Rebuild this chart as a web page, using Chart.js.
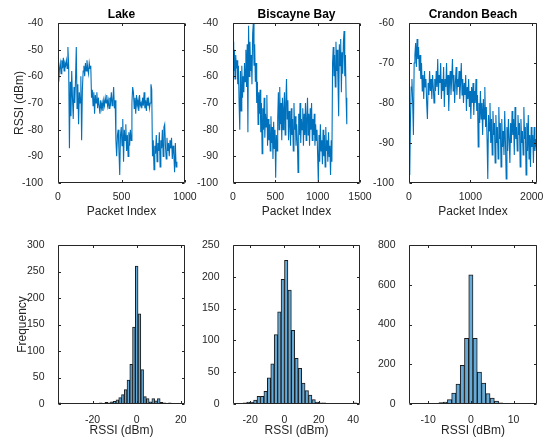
<!DOCTYPE html>
<html><head><meta charset="utf-8">
<script src="https://cdn.jsdelivr.net/npm/chart.js@4.4.0/dist/chart.umd.min.js"></script>
<style>
html,body{margin:0;padding:0;background:#fff;}
#wrap{position:relative;width:545px;height:441px;background:#fff;}
#wrap canvas{position:absolute;left:0;top:0;}
</style></head><body><div id="wrap">
<canvas id="c1" width="545" height="441"></canvas>
<canvas id="c2" width="545" height="441"></canvas>
<canvas id="c3" width="545" height="441"></canvas>
<canvas id="c4" width="545" height="441"></canvas>
<canvas id="c5" width="545" height="441"></canvas>
<canvas id="c6" width="545" height="441"></canvas>
</div>
<script>
// ---------------- DATA ----------------
const titles = ['Lake', 'Biscayne Bay', 'Crandon Beach'];

// packet index step between the read samples
const lakeStep = 6;
const lakeRssi = [-60,-62,-57,-55,-59,-54,-57,-53,-58,-55,-56,-54,-57,-49,-56,-87,-62,
 -75,-58,-68,-76,-64,-70,-61,-49,-72,-63,-78,-66,-70,-60,-84,-65,-58,
 -56,-60,-55,-58,-54,-57,-59,-55,-57,-56,
 -68,-65,-71,-66,-74,-67,-70,-66,-72,-68,-71,-74,-69,-72,-70,-73,-69,-71,-68,-70,-67,-71,-69,-72,-68,-70,-66,-71,-69,-64,-72,-69,
 -84,-90,-82,-80,-88,-97,-82,-79,-86,-76,-92,-80,-84,-78,-88,-82,-90,-81,-86,-80,-84,
 -70,-64,-66,-72,-68,-74,-67,-71,-69,-73,-67,-71,-70,-72,-68,-71,-66,-72,-69,-73,-68,-71,-69,-72,-70,-63,-65,
 -90,-84,-95,-86,-89,-82,-92,-85,-88,-81,-94,-84,-87,-80,-90,-79,-78,-86,-91,-83,-88,-85,-90,-84,-87,-83,-91,-86,-89,-96,-85,-94,-92];

const biscStep = 8;
const biscRssi = [-47,-58,-50,-61,-52,-57,-54,-63,-56,-70,-80,-58,-73,-56,-68,-60,-66,-55,-62,-50,
 -64,-48,-81,-41,-60,-47,-58,-52,-63,-44,-40,-56,-48,-62,-55,-70,-62,-78,-66,-74,
 -65,-81,-70,-89,-72,-80,-68,-83,-74,-79,-67,-86,-76,-84,-78,-88,-75,-85,-79,-91,
 -77,-87,-80,-98,-82,-88,-76,-66,-80,-64,-78,-70,-84,-68,-80,-72,-66,-82,-70,-61,
 -76,-69,-84,-73,-78,-86,-72,-82,-76,-88,-70,-80,-75,-86,-78,-84,-96,-74,-82,-70,
 -85,-76,-80,-72,-86,-74,-82,-70,-84,-76,-68,-82,-74,-86,-72,-80,-70,-84,-76,-82,
 -74,-86,-78,-84,-80,-90,-100,-82,-92,-78,-88,-84,-93,-80,-90,-82,-94,-79,-88,-84,
 -92,-81,-90,-86,-97,-84,-92,-55,-49,-60,-52,-64,-47,-58,-50,-62,-75,-48,-56,-46,
 -66,-51,-59,-47,-43,-60,-52,-68,-78];

const cranStep = 12;
const cranRssi = [-90,-98,-84,-76,-74,-80,-88,-70,-68,
 -65,-71,-64,-69,-66,-72,-68,-74,-70,
 -77,-73,-79,-72,-76,-74,-80,-84,-75,-78,-72,-77,-74,-79,-73,-76,-80,-74,-77,-72,
 -76,-69,-78,-73,-75,-70,-79,-74,-77,-71,-81,-74,-76,-70,-78,-73,-82,-75,-72,-78,-74,-69,-77,-73,-80,-75,-71,-78,-74,-76,-72,-79,-75,-70,-78,-74,
 -80,-75,-78,-73,-82,-76,-79,-74,-81,-77,-84,-76,-80,-75,-83,-77,-80,-74,
 -82,-78,-91,-80,-85,-77,-84,-80,-88,-79,-84,-76,-86,-81,-89,-99,-83,-87,-80,
 -90,-84,-93,-82,-88,-85,-95,-83,-90,-86,-94,-81,-89,-85,-96,-84,-91,-87,-93,-82,-90,-99,-86,-92,-84,-89,
 -95,-85,-90,-82,-88,-84,-93,-81,-89,-86,-92,-83,-88,-85,-96,-84,-90,-87,-93,-81,-89,-86,-98,-85,-92,-83,-94,-88,-96,-86,
 -91,-88,-95,-86,-92,-89,-91];

const lineXMax = [1000, 1500, 2086];
const lineXTicks = [[0, 500, 1000], [0, 500, 1000, 1500], [0, 1000, 2000]];
const lineYMin = [-100, -100, -100];
const lineYMax = [-40, -40, -60];
const lineYTicks = [[-100,-90,-80,-70,-60,-50,-40], [-100,-90,-80,-70,-60,-50,-40], [-100,-90,-80,-70,-60]];

// histograms: bin centers and counts
const lakeBins = [-35,-33.75,-32.5,-31.25,-30,-28.75,-27.5,-26.25,-25,-23.75,-22.5,-21.25,-20,-18.75,-17.5,-16.25,-15,-13.75,-12.5,-11.25,-10,-8.75,-7.5,-6.25,-5,-3.75,-2.5,-1.25,0,1.25,2.5,3.75,5,6.25,7.5,8.75,10,11.25,12.5,13.75,15,16.25,17.5,18.75,20,21.25];
const lakeCounts = [2,1,0,1,0,0,1,0,0,1,0,1,1,0,1,2,1,3,2,4,5,8,12,18,27,45,75,145,260,170,65,14,10,4,10,6,10,3,2,1,2,1,1,0,1,0];
const biscBins = [-29,-27,-25,-23,-21,-19,-17,-15,-13,-11,-9,-7,-5,-3,-1,1,3,5,7,9,11,13,15,17,19,21,23,25,27,29,31,33,35,37,39,41,43];
const biscCounts = [0,1,1,2,3,3,6,12,12,20,41,63,109,145,196,226,179,116,72,56,33,21,14,7,3,2,2,1,1,1,0,1,1,1,1,2,0];
const cranBins = [-14,-13,-12,-11,-10,-9,-8,-7,-6,-5,-4,-3,-2,-1,0,1,2,3,4,5,6,7,8,9,10,11,12,13,14,15];
const cranCounts = [0,1,1,2,4,2,4,7,10,22,55,100,195,330,650,330,160,105,52,30,15,6,4,3,2,2,1,1,1,0];

const histXMin = [-35.625, -30, -14.5];
const histXMax = [21.875, 44, 15.5];
const histXTicks = [[-20, 0, 20], [-20, 0, 20, 40], [-10, 0, 10]];
const histYMax = [300, 250, 800];
const histYTicks = [[0,50,100,150,200,250,300], [0,50,100,150,200,250], [0,200,400,600,800]];

// ---------------- STYLE / LAYOUT ----------------
const FONT = '"Liberation Sans", Arial, Helvetica, sans-serif';
const AX = '#262626';
const W = 545, H = 441;
const cols = [[58, 185], [233, 360], [409, 537]];
const rows = [[23, 183], [245, 404]];
const YW = 50;
const XH = [40, 34];

const boxPlugin = {
  id: 'mbox',
  afterDatasetsDraw(chart) {
    const {ctx, chartArea: a, scales} = chart;
    ctx.save();
    ctx.strokeStyle = AX;
    ctx.lineWidth = 1;
    const L = Math.round(a.left) + 0.5, R = Math.round(a.right) - 0.5;
    const T = Math.round(a.top) + 0.5, B = Math.round(a.bottom) - 0.5;
    ctx.beginPath();
    ctx.rect(L, T, R - L, B - T);
    const tl = 2.5;
    scales.x.ticks.forEach(t => {
      const p = Math.round(scales.x.getPixelForValue(t.value)) + 0.5;
      ctx.moveTo(p, B); ctx.lineTo(p, B - tl);
      ctx.moveTo(p, T); ctx.lineTo(p, T + tl);
    });
    scales.y.ticks.forEach(t => {
      const p = Math.round(scales.y.getPixelForValue(t.value)) + 0.5;
      ctx.moveTo(L, p); ctx.lineTo(L + tl, p);
      ctx.moveTo(R, p); ctx.lineTo(R - tl, p);
    });
    ctx.stroke();
    const txt = chart.options.plugins.mbox && chart.options.plugins.mbox.title;
    if (txt) {
      ctx.fillStyle = '#000';
      ctx.font = 'bold 12px ' + FONT;
      ctx.textAlign = 'center';
      ctx.textBaseline = 'middle';
      ctx.fillText(txt, (a.left + a.right) / 2, 15);
    }
    ctx.restore();
  }
};

function makeChart(id, type, datasets, o) {
  const [L, R] = cols[o.col];
  const [T, B] = rows[o.row];
  const xh = XH[o.row];
  new Chart(document.getElementById(id), {
    type: type,
    data: { datasets: datasets },
    plugins: [boxPlugin],
    options: {
      responsive: false,
      animation: false,
      events: [],
      devicePixelRatio: 1,
      layout: { padding: { left: L - YW, top: T, right: W - R, bottom: H - B - xh } },
      plugins: { legend: { display: false }, tooltip: { enabled: false }, title: { display: false },
                 mbox: { title: o.title || '' } },
      scales: {
        x: {
          type: 'linear', min: o.xmin, max: o.xmax, offset: false,
          grid: { display: false }, border: { display: false },
          ticks: { font: { family: FONT, size: 10.5 }, color: AX, padding: o.row === 0 ? -0.5 : 1.5,
                   maxRotation: 0, autoSkip: false, callback: v => String(v) },
          afterBuildTicks: s => { s.ticks = o.xticks.map(v => ({ value: v })); },
          afterFit: s => { s.height = xh; s.paddingLeft = 0; s.paddingRight = 0; },
          title: { display: !!o.xtitle, text: o.xtitle || '', color: AX,
                   font: { family: FONT, size: 12 },
                   padding: { top: 0, bottom: o.row === 0 ? 4.5 : 0 } }
        },
        y: {
          type: 'linear', min: o.ymin, max: o.ymax,
          grid: { display: false }, border: { display: false },
          ticks: { font: { family: FONT, size: 10.5 }, color: AX, padding: o.row === 0 ? 7 : 5.5,
                   autoSkip: false, callback: v => String(v) },
          afterBuildTicks: s => { s.ticks = o.yticks.map(v => ({ value: v })); },
          afterFit: s => { s.width = YW; s.paddingTop = 0; s.paddingBottom = 0; },
          title: { display: !!o.ytitle, text: o.ytitle || '', color: AX,
                   font: { family: FONT, size: 12 },
                   padding: { top: o.row === 0 ? 4.8 : 7.5, bottom: 0 } }
        }
      }
    }
  });
}

function lineSet(step, vals) {
  return [{
    data: vals.map((v, i) => ({ x: i * step, y: v })),
    borderColor: '#0072BD', borderWidth: 1.1, pointRadius: 0, tension: 0, fill: false
  }];
}
function barSet(bins, counts) {
  return [{
    data: counts.map((c, i) => ({ x: bins[i], y: c })),
    backgroundColor: 'rgb(102,170,215)', borderColor: '#1a1a1a', borderWidth: 1,
    borderSkipped: false, barPercentage: 1, categoryPercentage: 1, grouped: false
  }];
}

const lineSeries = [[lakeStep, lakeRssi], [biscStep, biscRssi], [cranStep, cranRssi]];
const histSeries = [[lakeBins, lakeCounts], [biscBins, biscCounts], [cranBins, cranCounts]];

for (let c = 0; c < 3; c++) {
  makeChart('c' + (c + 1), 'line', lineSet(lineSeries[c][0], lineSeries[c][1]), {
    col: c, row: 0, title: titles[c], xmin: 0, xmax: lineXMax[c], xticks: lineXTicks[c],
    ymin: lineYMin[c], ymax: lineYMax[c], yticks: lineYTicks[c],
    xtitle: 'Packet Index', ytitle: c === 0 ? 'RSSI (dBm)' : ''
  });
  makeChart('c' + (c + 4), 'bar', barSet(histSeries[c][0], histSeries[c][1]), {
    col: c, row: 1, xmin: histXMin[c], xmax: histXMax[c], xticks: histXTicks[c],
    ymin: 0, ymax: histYMax[c], yticks: histYTicks[c],
    xtitle: 'RSSI (dBm)', ytitle: c === 0 ? 'Frequency' : ''
  });
}
</script></body></html>
